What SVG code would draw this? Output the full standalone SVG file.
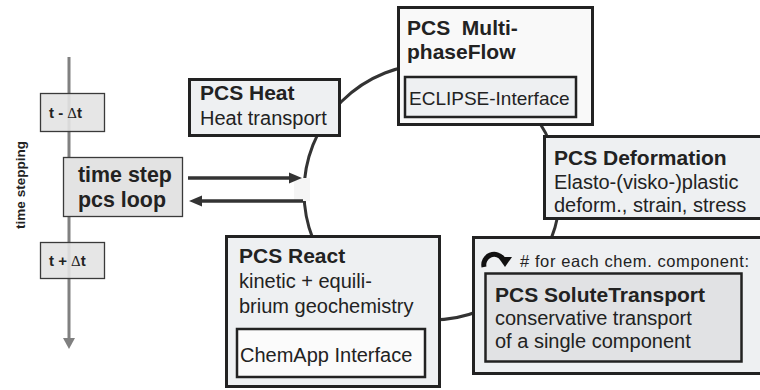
<svg xmlns="http://www.w3.org/2000/svg" width="760" height="390" viewBox="0 0 760 390">
  <defs>
    <style>
      .box { fill: #eef0f2; stroke: #222; stroke-width: 3; }
      .inner { stroke: #222; stroke-width: 2.5; }
      .tbox { fill: #e3e3e3; stroke: #3a3a3a; stroke-width: 1.3; }
      text { font-family: "Liberation Sans", Arial, sans-serif; fill: #222; }
      .b { font-weight: bold; font-size: 21px; }
      .r { font-size: 20px; }
      .tb { font-weight: bold; font-size: 15px; }
      .delta { font-family: "Liberation Serif", serif; font-weight: normal; }
      .ring { fill: none; stroke: #333; stroke-width: 3; }
      .arrow { stroke: #333; stroke-width: 3.5; fill: none; }
      .head { fill: #333; }
    </style>
  </defs>
  <rect width="760" height="390" fill="#ffffff"/>

  <!-- coupling ring between the process boxes -->
  <g id="connectors">
    <circle class="ring" cx="432" cy="192" r="128"/>
    <rect x="294" y="178" width="16" height="23" fill="#f5f5f5"/>
    <line class="arrow" x1="188" y1="178" x2="292" y2="178"/>
    <polygon class="head" points="302,178 289,172.5 289,183.5"/>
    <line class="arrow" x1="303" y1="201" x2="199" y2="201"/>
    <polygon class="head" points="189,201 202,195.5 202,206.5"/>
  </g>

  <!-- time axis -->
  <g id="time-axis">
    <line x1="69" y1="57" x2="69" y2="339" stroke="#808080" stroke-width="3"/>
    <polygon points="63,338 75,338 69,349" fill="#808080"/>
    <text class="tb" transform="translate(25,185) rotate(-90)" text-anchor="middle" style="font-size:13.5px">time stepping</text>
  </g>

  <g id="t-minus">
    <rect class="tbox" x="40.5" y="93.5" width="64" height="38" fill-opacity="0.9"/>
    <text class="tb" x="49" y="118">t - <tspan class="delta">Δ</tspan>t</text>
  </g>

  <g id="t-plus">
    <rect class="tbox" x="40.5" y="242.5" width="64" height="36" fill-opacity="0.9"/>
    <text class="tb" x="49" y="266">t + <tspan class="delta">Δ</tspan>t</text>
  </g>

  <g id="time-step">
    <rect class="tbox" x="63.5" y="157.5" width="119" height="59" stroke-width="1.5"/>
    <text class="b" x="78" y="182" style="font-size:21.4px">time step</text>
    <text class="b" x="78" y="207" style="font-size:21.4px">pcs loop</text>
  </g>

  <g id="pcs-heat">
    <rect class="box" x="189.5" y="79.5" width="150" height="56"/>
    <text class="b" x="200" y="100">PCS Heat</text>
    <text class="r" x="200" y="125">Heat transport</text>
  </g>

  <g id="pcs-multiphase">
    <rect class="box" x="398.5" y="7.5" width="194" height="117" style="fill:#f9f9f9"/>
    <text class="b" x="407" y="35" xml:space="preserve">PCS  Multi-</text>
    <text class="b" x="407" y="59">phaseFlow</text>
    <rect class="inner" x="405" y="77" width="171" height="40" fill="#eef0f2"/>
    <text class="r" x="409" y="105" style="font-size:19px">ECLIPSE-Interface</text>
  </g>

  <g id="pcs-deformation">
    <rect class="box" x="544.5" y="136.5" width="240" height="82"/>
    <text class="b" x="554" y="165">PCS Deformation</text>
    <text class="r" x="554" y="189">Elasto-(visko-)plastic</text>
    <text class="r" x="554" y="212">deform., strain, stress</text>
  </g>

  <g id="pcs-react">
    <rect class="box" x="226.5" y="236.5" width="213" height="150"/>
    <text class="b" x="239" y="263">PCS React</text>
    <text class="r" x="239" y="288">kinetic + equili-</text>
    <text class="r" x="239" y="313">brium geochemistry</text>
    <rect class="inner" x="237" y="329" width="188" height="48" fill="#fbfbfb"/>
    <text class="r" x="240" y="362">ChemApp Interface</text>
  </g>

  <g id="pcs-solute">
    <rect class="box" x="473.5" y="237.5" width="300" height="136"/>
    <path d="M484,267 A10.5,10.5 0 0 1 503,259" fill="none" stroke="#111" stroke-width="5"/>
    <polygon points="498,257 512,257 505,267" fill="#111"/>
    <text x="520" y="267" style="font-size:16.5px" textLength="229" lengthAdjust="spacing"># for each chem. component:</text>
    <rect class="inner" x="485.5" y="273.5" width="256" height="88" fill="#e1e2e4"/>
    <text class="b" x="495" y="302">PCS SoluteTransport</text>
    <text class="r" x="495" y="325">conservative transport</text>
    <text class="r" x="495" y="348">of a single component</text>
  </g>
</svg>
